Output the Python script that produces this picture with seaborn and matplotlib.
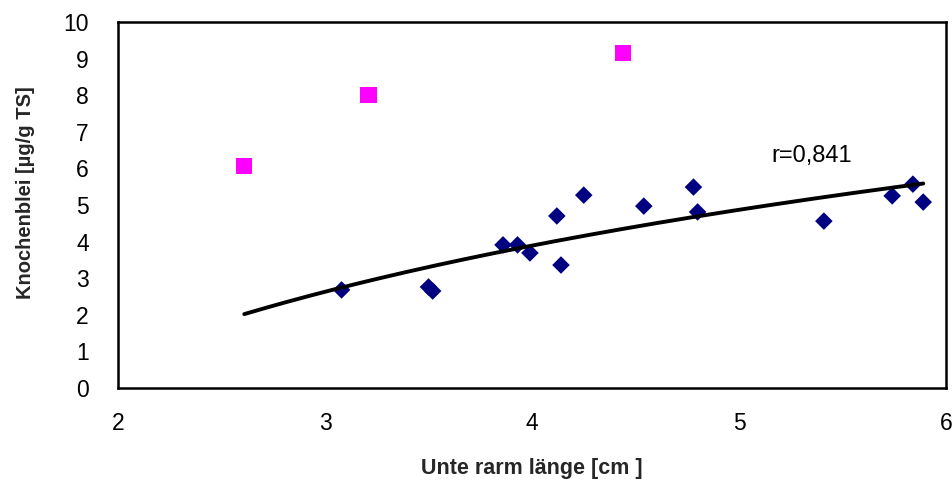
import numpy as np
import pandas as pd
import matplotlib
matplotlib.use("Agg")
import matplotlib.pyplot as plt
import seaborn as sns

# Data
group_x = [3.08, 3.50, 3.52, 3.86, 3.93, 3.99, 4.12, 4.14, 4.25, 4.54,
           4.78, 4.80, 5.41, 5.74, 5.84, 5.89]
group_y = [2.68, 2.76, 2.65, 3.91, 3.91, 3.69, 4.70, 3.36, 5.27, 4.97,
           5.49, 4.81, 4.56, 5.25, 5.57, 5.08]
outlier_x = [2.61, 3.21, 4.44]
outlier_y = [6.07, 8.00, 9.15]
x_ticks = [2, 3, 4, 5, 6]
y_ticks = [0, 1, 2, 3, 4, 5, 6, 7, 8, 9, 10]
r_label = "r=0,841"
x_label = "Unte rarm länge [cm ]"
y_label = "Knochenblei [µg/g TS]"

sns.set_style("white")
plt.rcParams["font.family"] = ["Liberation Sans", "DejaVu Sans"]

df_main = pd.DataFrame({"x": group_x, "y": group_y})
df_out = pd.DataFrame({"x": outlier_x, "y": outlier_y})

# logarithmic trend line fitted to the main group
b, a = np.polyfit(np.log(df_main["x"]), df_main["y"], 1)
xs = np.linspace(min(min(group_x), min(outlier_x)), max(group_x), 200)
df_fit = pd.DataFrame({"x": xs, "y": a + b * np.log(xs)})

fig = plt.figure(figsize=(9.53, 4.82), dpi=100)
ax = fig.add_axes([118 / 953, 1 - 388 / 482, (946 - 118) / 953, (388 - 22) / 482])

sns.lineplot(data=df_fit, x="x", y="y", ax=ax, color="black", linewidth=2.8,
             zorder=3)
sns.scatterplot(data=df_main, x="x", y="y", ax=ax, marker="D", s=80,
                color="#000080", edgecolor="none", zorder=2)
sns.scatterplot(data=df_out, x="x", y="y", ax=ax, marker="s", s=135,
                color="#FF00FF", edgecolor="none", zorder=2)

ax.set_xlim(2, 6)
ax.set_ylim(0, 10)
ax.set_xticks(x_ticks)
ax.set_yticks(y_ticks)
ax.set_xticklabels([str(t) for t in x_ticks])
ax.set_yticklabels([str(t) for t in y_ticks])

for sp in ax.spines.values():
    sp.set_visible(True)
    sp.set_color("black")
    sp.set_linewidth(1.8)

ax.tick_params(axis="both", which="major", direction="inout", length=9,
               width=1.0, color="#444444", labelsize=16.5, labelcolor="black")
ax.tick_params(axis="y", pad=16.5)
ax.tick_params(axis="x", pad=12.5)

ax.set_xlabel(x_label, fontsize=15.5, fontweight="bold")
ax.set_ylabel(y_label, fontsize=14.5, fontweight="bold")
ax.xaxis.set_label_coords(0.5, -0.19)
ax.yaxis.set_label_coords(-0.1, 0.535)

ax.text(5.155, 6.34, r_label, fontsize=17, ha="left", va="center",
        color="black")

fig.savefig("out.png", dpi=100)
